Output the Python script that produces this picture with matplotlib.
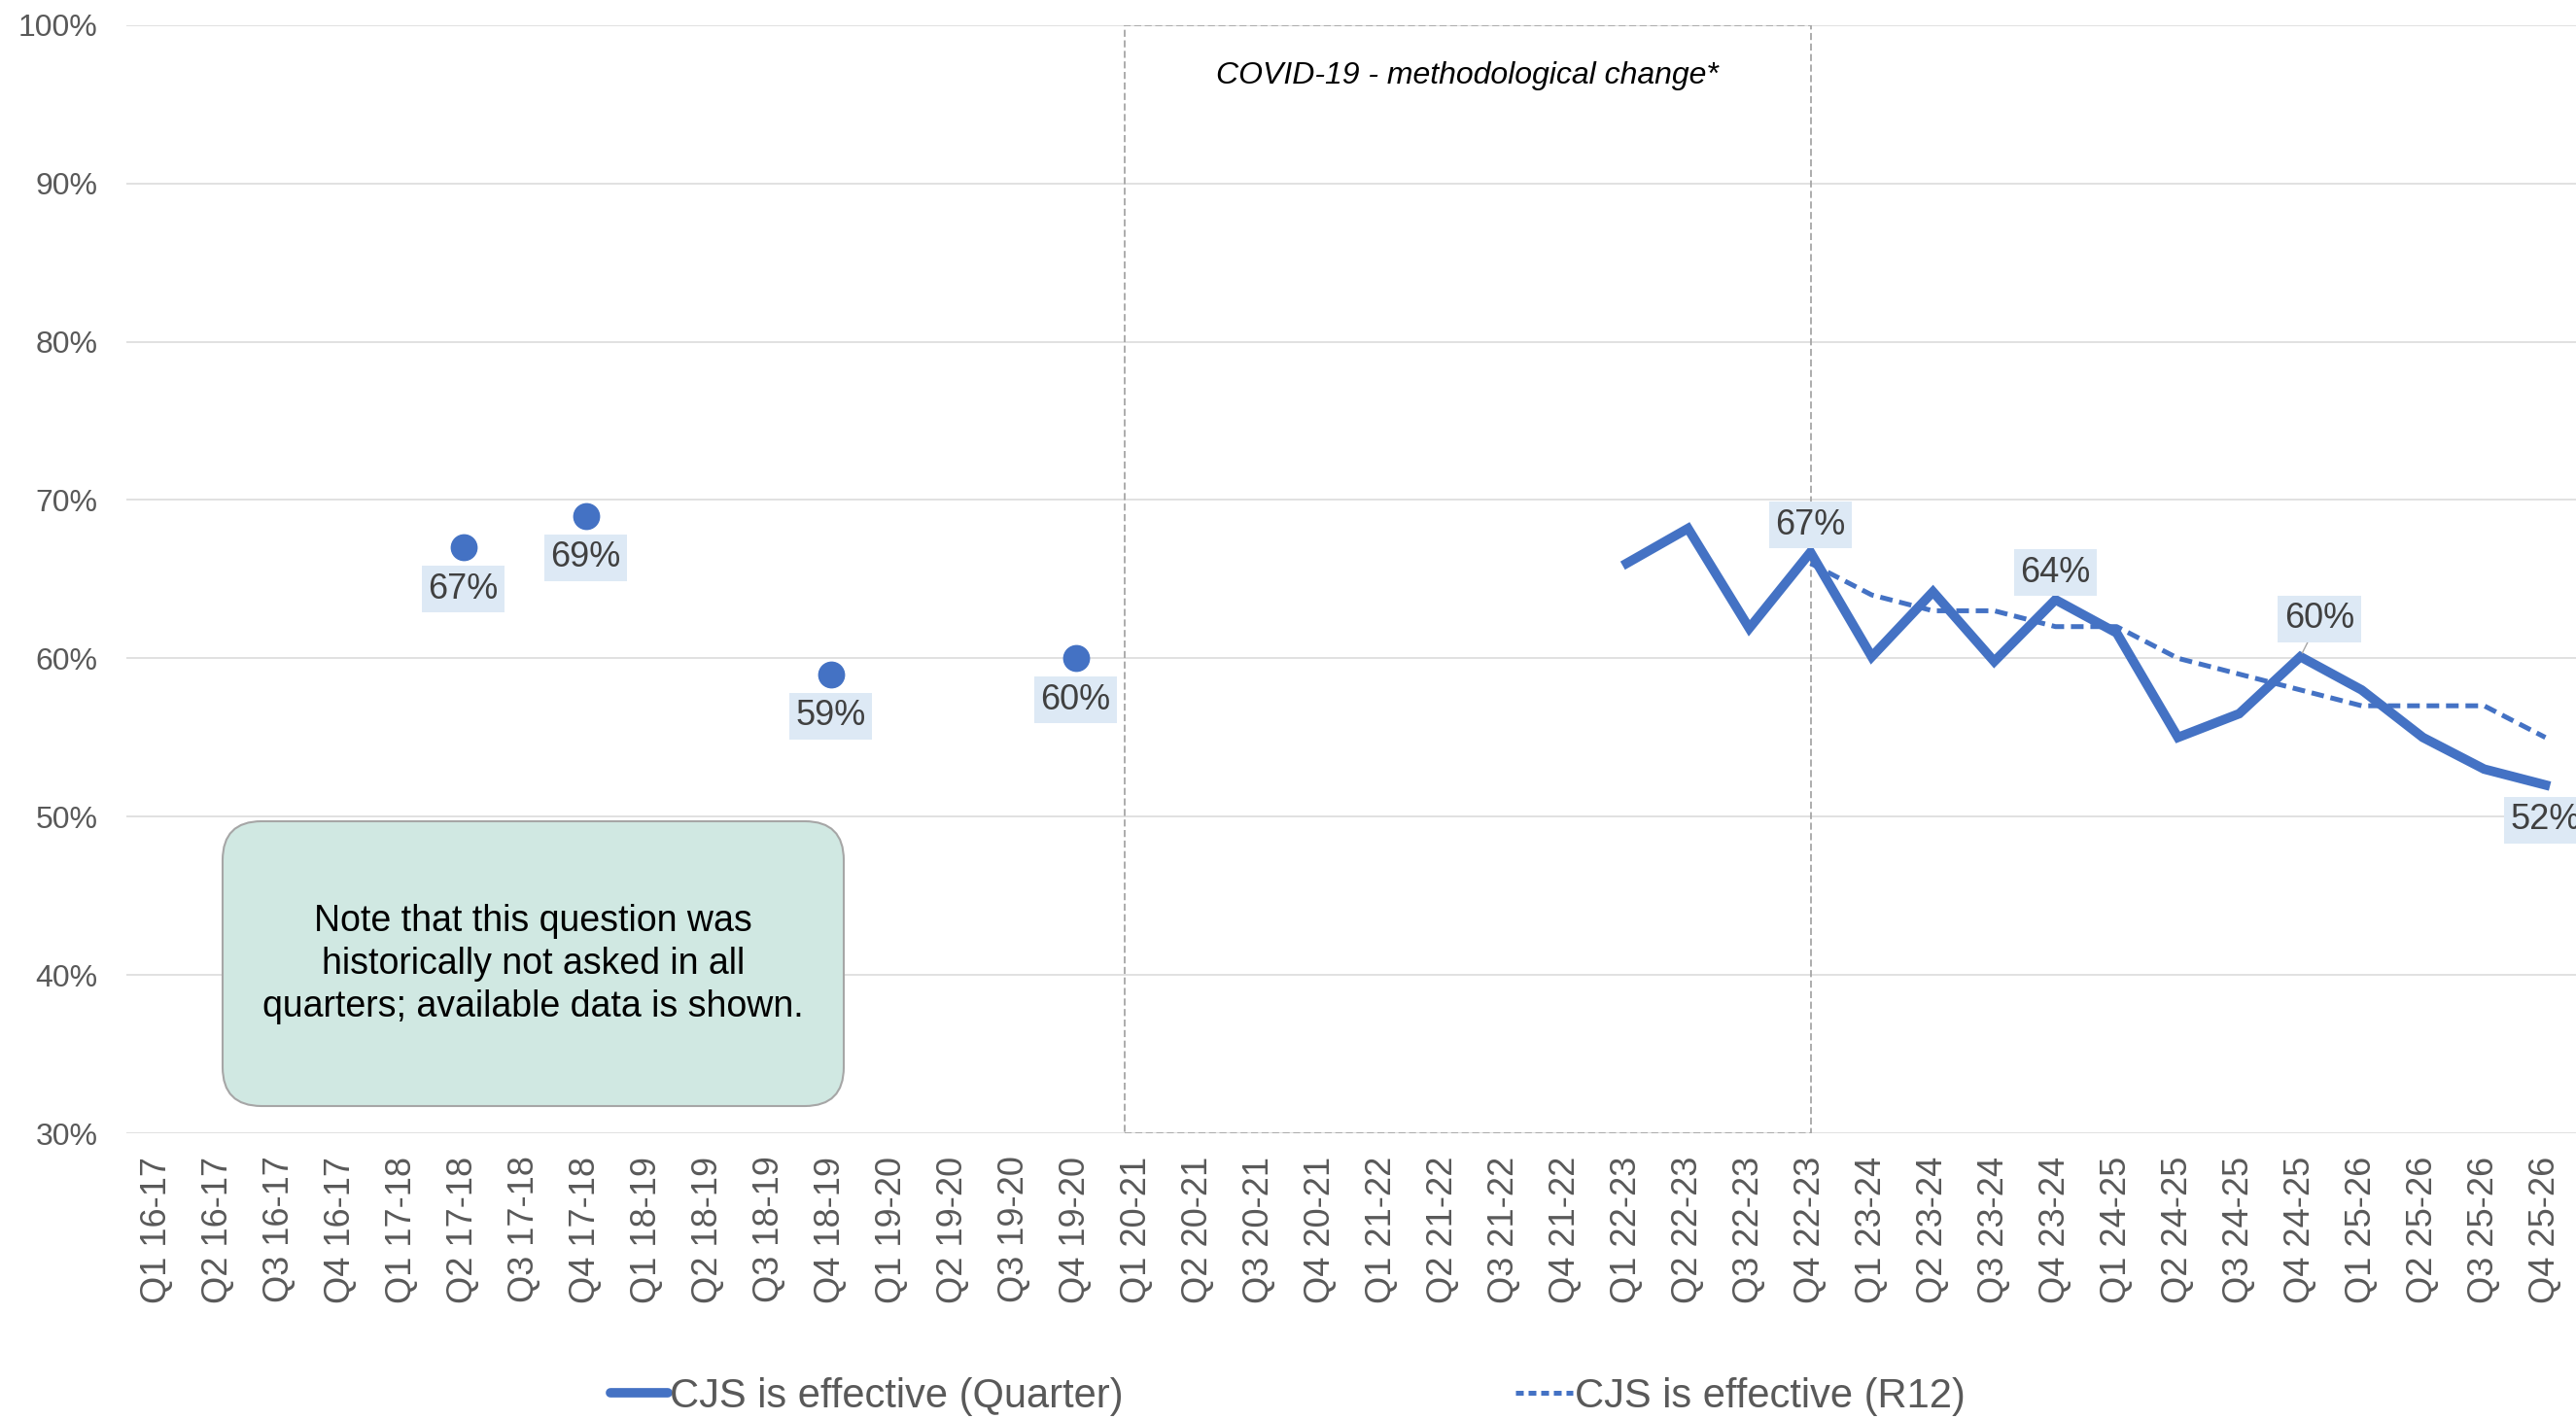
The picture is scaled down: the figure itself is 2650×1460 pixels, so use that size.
import matplotlib
matplotlib.use("Agg")
import matplotlib.pyplot as plt
from matplotlib.lines import Line2D
from matplotlib.patches import Rectangle, FancyBboxPatch
from matplotlib.transforms import IdentityTransform

plt.rcParams['font.family'] = ['Liberation Sans', 'DejaVu Sans']

# Quarter labels Q1 16-17 ... Q4 25-26
years = ['16-17', '17-18', '18-19', '19-20', '20-21', '21-22',
         '22-23', '23-24', '24-25', '25-26']
quarters = [f'Q{q} {y}' for y in years for q in range(1, 5)]

# Historic quarters where the question was asked (markers only)
hist_quarters = ['Q2 17-18', 'Q4 17-18', 'Q4 18-19', 'Q4 19-20']
hist_values = [67, 69, 59, 60]

# Quarterly series from Q1 22-23
qtr_quarters = quarters[24:]
qtr_values = [66.0, 68.2, 61.9, 66.7, 60.1, 64.2, 59.8, 63.7,
              61.6, 55.0, 56.5, 60.1, 58.0, 55.0, 53.0, 52.0]

# Rolling 12-month series from Q4 22-23
r12_quarters = quarters[27:]
r12_values = [66.0, 64.0, 63.0, 63.0, 62.0, 62.0, 60.0, 59.0, 58.0, 57.0, 57.0, 57.0, 55.0]

# Labelled points: (quarter, text)
qtr_labels = [('Q4 22-23', '67%'), ('Q4 23-24', '64%'), ('Q4 24-25', '60%'), ('Q4 25-26', '52%')]

blue = '#4472C4'
grey_txt = '#595959'
lab_fc = '#DDE9F5'

W, H = 2650, 1460
fig = plt.figure(figsize=(W / 100, H / 100), dpi=100)
ax = fig.add_axes([130 / W, 1 - 1166 / H, 1 - 130 / W, (1166 - 25.7) / H])

xi = {q: i for i, q in enumerate(quarters)}

# COVID box
ax.add_patch(Rectangle((15.8, 30), 27 - 15.8, 70, fill=False, ec='#A6A6A6', lw=1.3,
                       ls=(0, (4, 2)), zorder=1.5))
ax.text(21.4, 96.8, 'COVID-19 - methodological change*', style='italic', fontsize=23,
        ha='center', va='center', color='black')

# series
ax.plot([xi[q] for q in hist_quarters], hist_values, 'o', ms=19, color=blue, zorder=4)
ax.plot([xi[q] for q in qtr_quarters], qtr_values, color=blue, lw=7,
        solid_joinstyle='miter', zorder=3)
ax.plot([xi[q] for q in r12_quarters], r12_values, color=blue, lw=3.6,
        ls=(0, (2.6, 1.4)), zorder=3)

# data labels
bb = dict(boxstyle='square,pad=0.18', fc=lab_fc, ec='none')
for q, v in zip(hist_quarters, hist_values):
    ax.annotate(f'{v}%', (xi[q], v), xytext=(0, -31), textcoords='offset points',
                ha='center', va='center', fontsize=26, color='#404040', bbox=bb, zorder=5)

qv = dict(zip(qtr_quarters, qtr_values))
offsets = {'67%': (0, 20), '64%': (0, 20), '60%': (14, 28), '52%': (0, -26)}
for q, t in qtr_labels:
    arrow = None
    if t == '60%':
        arrow = dict(arrowstyle='-', color='#A6A6A6', lw=1, shrinkA=0, shrinkB=3)
    ax.annotate(t, (xi[q], qv[q]), xytext=offsets[t], textcoords='offset points',
                ha='center', va='center', fontsize=26, color='#404040', bbox=bb,
                arrowprops=arrow, zorder=5)

# axes styling
ax.set_xlim(-0.5, 39.5)
ax.set_ylim(30, 100)
ax.set_yticks(range(30, 101, 10))
ax.set_yticklabels([f'{v}%' for v in range(30, 101, 10)], fontsize=23, color=grey_txt)
ax.set_xticks(range(len(quarters)))
ax.set_xticklabels(quarters, rotation=90, fontsize=26, color=grey_txt)
ax.tick_params(axis='y', length=0, pad=21)
ax.tick_params(axis='x', length=0, pad=17)
ax.grid(axis='y', color='#D9D9D9', lw=1.1)
ax.set_axisbelow(True)
for s in ax.spines.values():
    s.set_visible(False)

# note box (pixel coordinates)
note = FancyBboxPatch((229, H - 1138), 639, 293, boxstyle='round,pad=0,rounding_size=40',
                      transform=IdentityTransform(), fc='#D0E8E2', ec='#A6A6A6', lw=1.5,
                      zorder=6)
fig.patches.append(note)
fig.text(548.5 / W, 1 - 992 / H,
         'Note that this question was\nhistorically not asked in all\nquarters; available data is shown.',
         ha='center', va='center', fontsize=27, linespacing=1.3, color='black', zorder=7)

# legend
handles = [Line2D([], [], color=blue, lw=7, solid_capstyle='round'),
           Line2D([], [], color=blue, lw=3.6, ls=(0, (1.6, 1.0)))]
leg = fig.legend(handles, ['CJS is effective (Quarter)', 'CJS is effective (R12)'],
                 loc='center', bbox_to_anchor=(0.5, 1 - 1437 / H), ncol=2, frameon=False,
                 fontsize=30, handlelength=1.4, handletextpad=0.05, columnspacing=9.7)
for t in leg.get_texts():
    t.set_color(grey_txt)

fig.savefig('out.png', dpi=100)
